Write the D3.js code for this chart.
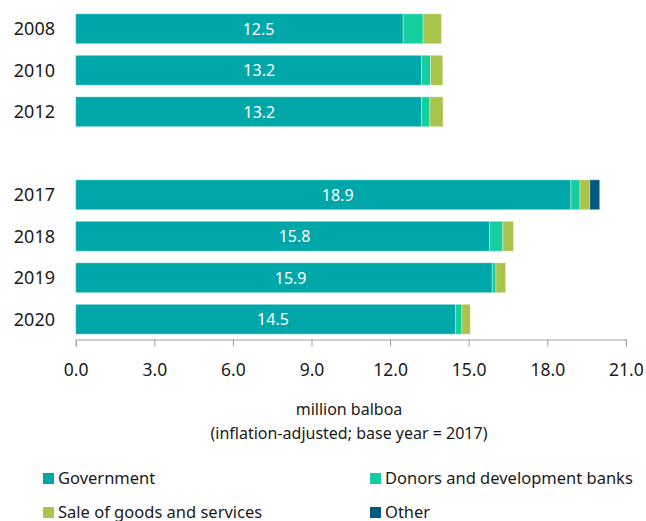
<!DOCTYPE html>
<html lang="en">
<head>
    <meta charset="UTF-8">
    <title>Funding sources</title>
    <script src="https://cdn.jsdelivr.net/npm/d3@7"></script>
    <style>
        body { margin: 0; background: #fff; }
        svg text { font-family: "Noto Sans", "Open Sans", sans-serif; fill: #1a1a1a; }
        .axis path, .axis line { stroke: #a0a0a0; }
    </style>
</head>
<body>
    <svg width="646" height="521"></svg>

    <script>
        // rows of the chart, " " is the empty gap between 2012 and 2017
        const rows = ["2008", "2010", "2012", " ", "2017", "2018", "2019", "2020"];
        const years = ["2008", "2010", "2012", "2017", "2018", "2019", "2020"];
        const government = [12.5, 13.2, 13.2, 18.9, 15.8, 15.9, 14.5];
        const donors = [0.76, 0.34, 0.32, 0.35, 0.50, 0.14, 0.24];
        const sales = [0.70, 0.47, 0.50, 0.37, 0.41, 0.37, 0.32];
        const other = [0, 0, 0, 0.38, 0, 0, 0];
        const seriesNames = ["Government", "Donors and development banks", "Sale of goods and services", "Other"];
        const seriesColors = ["#00a7a8", "#14cf9d", "#a9c34b", "#03597f"];
        const ticks = [0, 3, 6, 9, 12, 15, 18, 21];

        const svg = d3.select("svg");

        const x = d3.scaleLinear().domain([0, 21]).range([75.7, 625.9]);
        const y = d3.scaleBand().domain(rows).range([8, 340])
            .paddingInner(0.28).paddingOuter(0.14);

        // build table for the stack
        const table = years.map(function (yr, i) {
            return {
                year: yr,
                "Government": government[i],
                "Donors and development banks": donors[i],
                "Sale of goods and services": sales[i],
                "Other": other[i]
            };
        });

        const stack = d3.stack().keys(seriesNames)(table);
        const color = d3.scaleOrdinal().domain(seriesNames).range(seriesColors);

        svg.append("g").selectAll("g")
            .data(stack)
            .enter()
            .append("g")
            .attr("fill", d => color(d.key))
            .selectAll("rect")
            .data(d => d.filter(p => p[1] - p[0] > 0))
            .enter()
            .append("rect")
            .attr("x", d => x(d[0]))
            .attr("y", d => y(d.data.year))
            .attr("width", d => x(d[1]) - x(d[0]))
            .attr("height", y.bandwidth())
            .attr("stroke", "#ffffff")
            .attr("stroke-opacity", 0.35)
            .attr("stroke-width", 1);

        // value labels (government share), centred on the whole bar
        svg.append("g").selectAll("text")
            .data(table)
            .enter()
            .append("text")
            .attr("x", d => x((d["Government"] + d["Donors and development banks"] + d["Sale of goods and services"] + d["Other"]) / 2))
            .attr("y", d => y(d.year) + y.bandwidth() / 2)
            .attr("dy", "0.36em")
            .attr("text-anchor", "middle")
            .style("fill", "#ffffff")
            .style("font-size", "16px")
            .text(d => d["Government"].toFixed(1));

        // year labels
        svg.append("g").selectAll("text")
            .data(years)
            .enter()
            .append("text")
            .attr("x", 55)
            .attr("y", d => y(d) + y.bandwidth() / 2)
            .attr("dy", "0.36em")
            .attr("text-anchor", "end")
            .style("font-size", "18px")
            .text(d => d);

        // x axis
        const axis = svg.append("g")
            .attr("class", "axis")
            .attr("transform", "translate(0,339.5)")
            .call(d3.axisBottom(x).tickValues(ticks).tickFormat(d3.format(".1f"))
                .tickSizeInner(7).tickSizeOuter(7).tickPadding(17));
        axis.selectAll("text")
            .style("font-size", "17.5px")
            .style("font-family", "'Noto Sans', sans-serif")
            .attr("fill", "#1a1a1a");

        svg.append("text")
            .attr("x", 349)
            .attr("y", 415)
            .attr("text-anchor", "middle")
            .style("font-size", "16px")
            .text("million balboa");
        svg.append("text")
            .attr("x", 349)
            .attr("y", 439)
            .attr("text-anchor", "middle")
            .style("font-size", "16px")
            .text("(inflation-adjusted; base year = 2017)");

        // legend
        const legendPos = [[43, 473], [370, 473], [43, 507], [370, 507]];
        const legend = svg.append("g").selectAll("g")
            .data(seriesNames)
            .enter()
            .append("g")
            .attr("transform", (d, i) => "translate(" + legendPos[i][0] + "," + legendPos[i][1] + ")");
        legend.append("rect")
            .attr("width", 11)
            .attr("height", 11)
            .attr("fill", d => color(d));
        legend.append("text")
            .attr("x", 15)
            .attr("y", 5.5)
            .attr("dy", "0.36em")
            .style("font-size", "16.5px")
            .text(d => d);
    </script>
</body>
</html>
